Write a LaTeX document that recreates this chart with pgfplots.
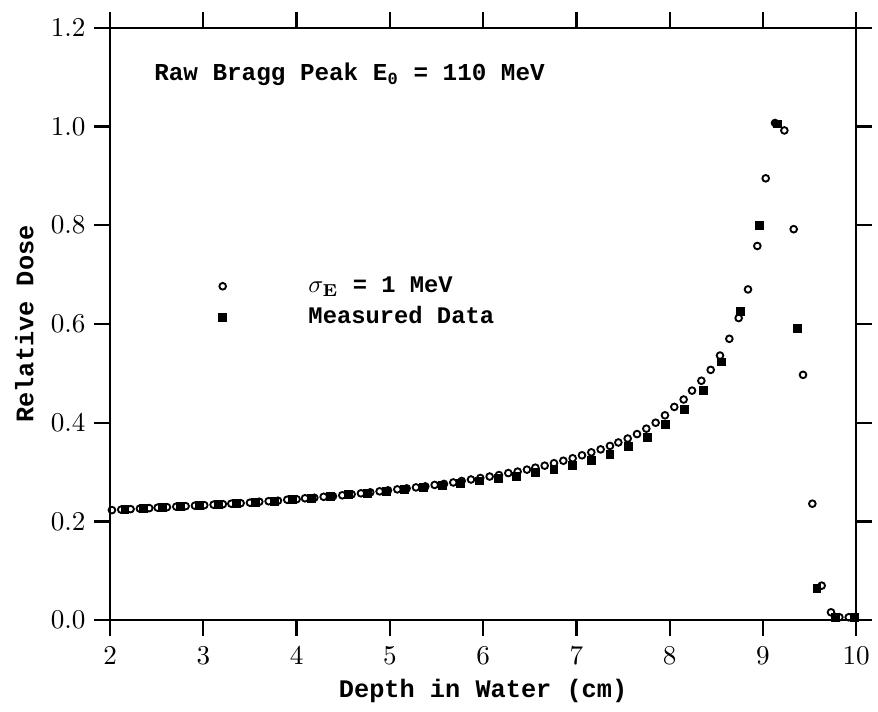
\documentclass[border=0pt]{standalone}
\usepackage{pgfplots}
\pgfplotsset{compat=1.18}
\usepackage[no-math]{fontspec}
\setmainfont{Liberation Mono}
\begin{document}
\begin{tikzpicture}
\begin{axis}[
  name=ax,
  scale only axis, width=301pt, height=239pt,
  xmin=2, xmax=10, ymin=0, ymax=1.2,
  xtick={2,3,4,5,6,7,8,9,10},
  ytick={0,0.2,0.4,0.6,0.8,1.0,1.2},
  yticklabels={$0.0$,$0.2$,$0.4$,$0.6$,$0.8$,$1.0$,$1.2$},
  tick align=outside, tick pos=both,
  xticklabel pos=lower, yticklabel pos=left,
  major tick length=6.4pt,
  axis line style={line width=0.9pt},
  tick style={line width=0.9pt, black},
  ticklabel style={font=\fontsize{10.5}{12}\selectfont},
  xticklabel style={yshift=-1pt},
  label style={font=\bfseries\fontsize{10.2}{12}\selectfont},
  xlabel={Depth in Water (cm)},
  ylabel={Relative Dose},
  xlabel style={yshift=1pt},
  legend style={draw=none, fill=none, inner sep=0pt, at={(axis cs:3.16,0.645)}, anchor=west,
    font=\bfseries\fontsize{9.6}{12}\selectfont, row sep=1.5pt,
    nodes={inner sep=1pt, text height=7pt, text depth=2pt},
    /tikz/every odd column/.append style={column sep=32pt}},
  legend cell align=left,
  legend image code/.code={\draw[#1] plot coordinates {(0pt,0pt)};},
]
\addplot[only marks, mark=o, mark size=1.35pt, mark options={line width=0.75pt, black}] table {
x y
2.02 0.223
2.12 0.224
2.22 0.225
2.32 0.226
2.42 0.227
2.51 0.228
2.61 0.229
2.71 0.230
2.81 0.231
2.91 0.232
3.01 0.233
3.11 0.234
3.21 0.235
3.30 0.236
3.40 0.237
3.50 0.238
3.60 0.240
3.70 0.241
3.80 0.242
3.90 0.244
4.00 0.245
4.09 0.247
4.19 0.248
4.29 0.250
4.39 0.251
4.49 0.253
4.59 0.255
4.69 0.257
4.79 0.259
4.89 0.261
4.98 0.263
5.08 0.265
5.18 0.267
5.28 0.269
5.38 0.271
5.48 0.274
5.58 0.276
5.68 0.279
5.77 0.282
5.87 0.285
5.97 0.288
6.07 0.291
6.17 0.294
6.27 0.298
6.37 0.301
6.47 0.305
6.56 0.309
6.66 0.313
6.76 0.318
6.86 0.323
6.96 0.328
7.06 0.334
7.16 0.340
7.26 0.346
7.36 0.353
7.45 0.360
7.55 0.368
7.65 0.377
7.75 0.388
7.85 0.400
7.95 0.415
8.05 0.432
8.15 0.447
8.24 0.465
8.34 0.485
8.44 0.507
8.54 0.536
8.64 0.570
8.74 0.612
8.84 0.670
8.94 0.758
9.03 0.895
9.13 1.007
9.23 0.992
9.33 0.792
9.43 0.497
9.53 0.236
9.63 0.070
9.73 0.016
9.82 0.006
9.92 0.006
};
\addlegendentry{$\sigma_{\mathbf{E}}$ = 1 MeV}
\addplot[only marks, mark=square*, mark size=1.6pt, mark options={black}] table {
x y
2.16 0.224
2.36 0.226
2.56 0.228
2.76 0.230
2.96 0.232
3.16 0.234
3.36 0.236
3.56 0.239
3.76 0.241
3.96 0.244
4.16 0.247
4.36 0.250
4.56 0.254
4.76 0.257
4.96 0.261
5.16 0.264
5.36 0.268
5.56 0.272
5.76 0.277
5.96 0.282
6.16 0.287
6.36 0.292
6.56 0.299
6.76 0.306
6.96 0.314
7.16 0.324
7.36 0.336
7.56 0.351
7.76 0.370
7.96 0.397
8.16 0.426
8.36 0.466
8.56 0.523
8.76 0.625
8.96 0.800
9.16 1.005
9.37 0.590
9.58 0.064
9.78 0.006
9.98 0.006
};
\addlegendentry{Measured Data}
\node[anchor=west, font=\bfseries\fontsize{9.8}{12}\selectfont] at (axis cs:2.38,1.105) {Raw Bragg Peak E\textsubscript{0} = 110 MeV};
\end{axis}
\path ([xshift=-44.4pt,yshift=-30.8pt]ax.south west) rectangle ([xshift=5.6pt,yshift=11.2pt]ax.north east);
\end{tikzpicture}
\end{document}
